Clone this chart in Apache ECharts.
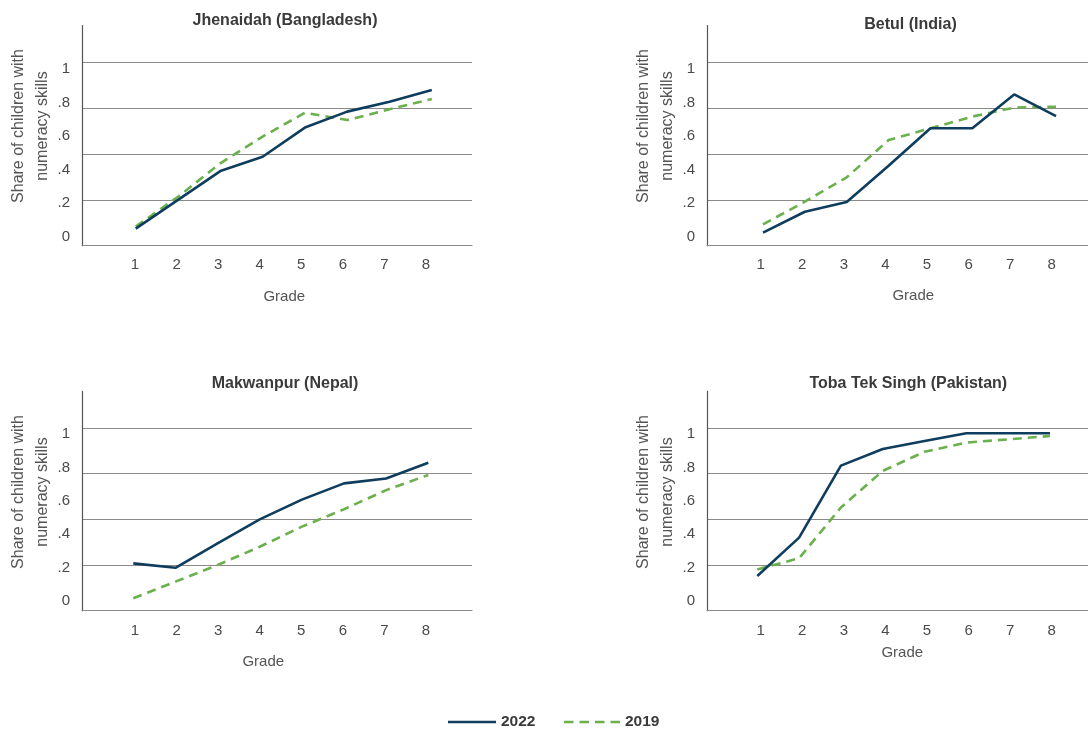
<!DOCTYPE html>
<html>
<head>
<meta charset="utf-8">
<script src="https://cdn.jsdelivr.net/npm/echarts@6/dist/echarts.min.js"></script>
<style>
html,body{margin:0;padding:0;background:#fff;}
#chart{width:1088px;height:729px;}
</style>
</head>
<body>
<div id="chart"></div>
<script>
// ---- data ----
const grades = [1, 2, 3, 4, 5, 6, 7, 8];
const gradeTicks = [1, 2, 3, 4, 5, 6, 7, 8];
const shareTicks = [0, 0.2, 0.4, 0.6, 0.8, 1];
const panelTitles = ['Jhenaidah (Bangladesh)', 'Betul (India)', 'Makwanpur (Nepal)', 'Toba Tek Singh (Pakistan)'];
const seriesNames = ['2022', '2019'];

const jhenaidah2022 = [0.093, 0.25, 0.407, 0.485, 0.644, 0.731, 0.785, 0.849];
const jhenaidah2019 = [0.104, 0.267, 0.449, 0.595, 0.725, 0.685, 0.744, 0.80];
const betul2022 = [0.071, 0.185, 0.238, 0.436, 0.64, 0.64, 0.825, 0.707];
const betul2019 = [0.116, 0.24, 0.373, 0.576, 0.64, 0.704, 0.753, 0.758];
const makwanpur2022 = [0.259, 0.235, 0.369, 0.50, 0.608, 0.697, 0.724, 0.81];
const makwanpur2019 = [0.068, 0.159, 0.25, 0.35, 0.46, 0.555, 0.66, 0.743];
const toba2022 = [0.19, 0.40, 0.794, 0.885, 0.929, 0.971, 0.971, 0.971];
const toba2019 = [0.226, 0.287, 0.565, 0.765, 0.87, 0.92, 0.938, 0.956];

const panelData = [
  [jhenaidah2022, jhenaidah2019],
  [betul2022, betul2019],
  [makwanpur2022, makwanpur2019],
  [toba2022, toba2019]
];

// ---- style / layout ----
const FONT = "'Liberation Sans', Arial, Helvetica, sans-serif";
const NAVY = '#0f3d5e';
const GREEN = '#6ab04c';
const GRIDC = '#8a8a8a';

// data grids (plot areas)
const dataGrids = [
  {left: 82, top: 245.7 - 1.2 * 183.4, width: 390, height: 1.2 * 183.4, xmin: -0.27, xmax: 8.95},
  {left: 707, top: 245.7 - 1.2 * 183.4, width: 381, height: 1.2 * 183.4, xmin: -0.338, xmax: 8.764},
  {left: 82, top: 610.7 - 1.2 * 182.7, width: 390, height: 1.2 * 182.7, xmin: -0.217, xmax: 9.037},
  {left: 707, top: 610.7 - 1.2 * 182.7, width: 381, height: 1.2 * 182.7, xmin: -0.203, xmax: 8.91}
];
// label grids (tick-label placement)
const labelGrids = [
  {left: 135, top: 69, width: 291, height: 167.7, yOff: 53, xMargin: 21},
  {left: 760.7, top: 69, width: 291, height: 167.7, yOff: 53.7, xMargin: 21},
  {left: 135, top: 434, width: 291, height: 167, yOff: 53, xMargin: 22.5},
  {left: 760.7, top: 434, width: 291, height: 167, yOff: 53.7, xMargin: 22.5}
];
const titlePos = [[285, 20.7], [910.5, 25], [285, 384], [908.3, 384]];
const gradePos = [[284.3, 296.7], [913.3, 295.7], [263.3, 661.7], [902.3, 652.7]];
const yTitlePos = [[30.7, 126], [655.8, 126], [30.7, 492], [655.8, 492]];

const grid = [], xAxis = [], yAxis = [], series = [], graphic = [];

dataGrids.forEach((g, i) => {
  grid.push({left: g.left, top: g.top, width: g.width, height: g.height, containLabel: false});
  xAxis.push({
    type: 'value', gridIndex: i, min: g.xmin, max: g.xmax,
    axisLine: {show: true, onZero: false, lineStyle: {color: GRIDC, width: 1.2}},
    axisTick: {show: false}, axisLabel: {show: false}, splitLine: {show: false}
  });
  yAxis.push({
    type: 'value', gridIndex: i, min: 0, max: 1.2, interval: 0.25,
    axisLine: {show: true, onZero: false, lineStyle: {color: '#555', width: 1.2}},
    axisTick: {show: false}, axisLabel: {show: false},
    splitLine: {show: true, showMinLine: false, showMaxLine: false, lineStyle: {color: GRIDC, width: 1.2}}
  });
});

labelGrids.forEach((g, i) => {
  grid.push({left: g.left, top: g.top, width: g.width, height: g.height, containLabel: false});
  xAxis.push({
    type: 'value', gridIndex: 4 + i, min: gradeTicks[0], max: gradeTicks[gradeTicks.length - 1], interval: 1,
    axisLine: {show: false, onZero: false}, axisTick: {show: false}, splitLine: {show: false},
    axisLabel: {show: true, margin: g.xMargin, fontSize: 15, color: '#4a4a4a', fontFamily: FONT}
  });
  yAxis.push({
    type: 'value', gridIndex: 4 + i, min: shareTicks[0], max: shareTicks[shareTicks.length - 1], interval: 0.2,
    offset: g.yOff,
    axisLine: {show: false, onZero: false}, axisTick: {show: false}, splitLine: {show: false},
    axisLabel: {
      show: true, margin: 12, fontSize: 15, color: '#4a4a4a', fontFamily: FONT,
      formatter: v => (Math.abs(v) < 1e-9 ? '0' : Math.abs(v - 1) < 1e-9 ? '1' : v.toFixed(1).replace(/^0/, ''))
    }
  });
});

panelData.forEach((pair, i) => {
  // 2019 first (underneath), 2022 on top
  series.push({
    name: seriesNames[1], type: 'line', xAxisIndex: i, yAxisIndex: i,
    data: grades.map((g, k) => [g, pair[1][k]]),
    symbol: 'none', showSymbol: false, smooth: false, z: 3,
    lineStyle: {color: GREEN, width: 2.6, type: [9, 6]},
    itemStyle: {color: GREEN}
  });
  series.push({
    name: seriesNames[0], type: 'line', xAxisIndex: i, yAxisIndex: i,
    data: grades.map((g, k) => [g, pair[0][k]]),
    symbol: 'none', showSymbol: false, smooth: false, z: 4,
    lineStyle: {color: NAVY, width: 2.6, type: 'solid'},
    itemStyle: {color: NAVY}
  });
});

panelTitles.forEach((t, i) => {
  graphic.push({
    type: 'text', x: titlePos[i][0], y: titlePos[i][1],
    style: {text: t, fill: '#3a3a3a', font: 'bold 16px ' + FONT, textAlign: 'center', textVerticalAlign: 'middle'}
  });
  graphic.push({
    type: 'text', x: gradePos[i][0], y: gradePos[i][1],
    style: {text: 'Grade', fill: '#555', font: '15px ' + FONT, textAlign: 'center', textVerticalAlign: 'middle'}
  });
  graphic.push({
    type: 'text', x: yTitlePos[i][0], y: yTitlePos[i][1], rotation: Math.PI / 2,
    style: {text: 'Share of children with\nnumeracy skills', fill: '#555', font: '16px ' + FONT,
      lineHeight: 24, textAlign: 'center', textVerticalAlign: 'middle'}
  });
});

const legendText = {fontSize: 15.5, fontWeight: 'bold', color: '#3a3a3a', fontFamily: FONT};
const option = {
  animation: false,
  backgroundColor: '#fff',
  grid, xAxis, yAxis, series, graphic,
  legend: [
    {data: [{name: seriesNames[0], icon: 'path://M0,0H48V2.6H0Z', itemStyle: {color: NAVY}}],
      left: 448, top: 714, itemWidth: 48, itemHeight: 2.6, padding: 0, textStyle: legendText},
    {data: [{name: seriesNames[1],
      icon: 'path://M0,0h9.5v2.6h-9.5zM15.5,0h9.5v2.6h-9.5zM31,0h9.5v2.6h-9.5zM46.5,0h9.5v2.6h-9.5z',
      itemStyle: {color: GREEN}}],
      left: 564, top: 714, itemWidth: 56, itemHeight: 2.6, padding: 0, textStyle: legendText}
  ]
};

const chart = echarts.init(document.getElementById('chart'), null, {renderer: 'canvas'});
chart.setOption(option);
</script>
</body>
</html>
